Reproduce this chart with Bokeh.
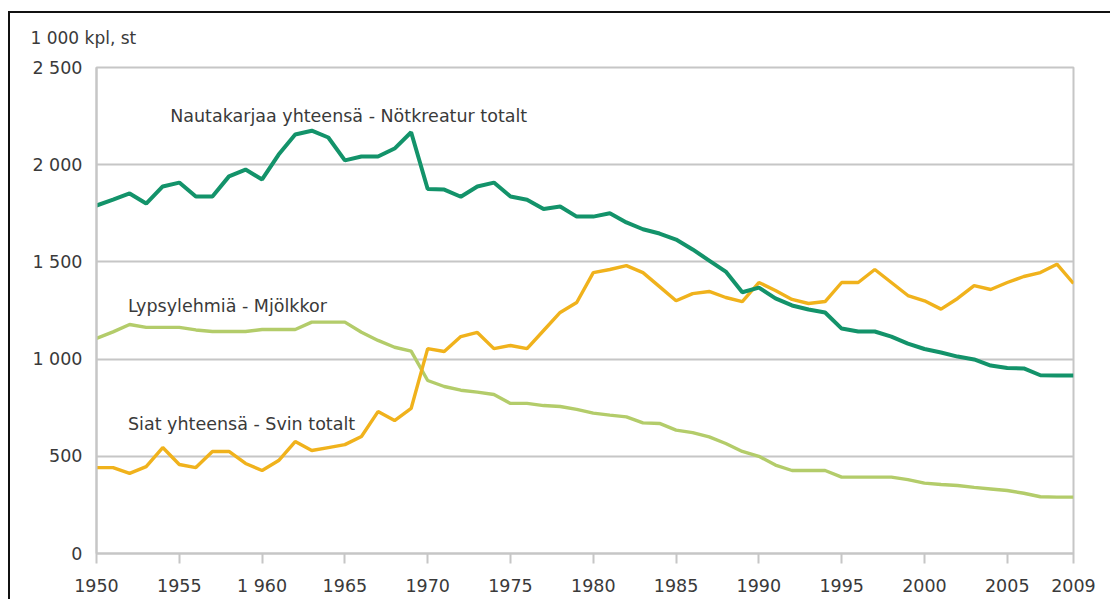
from bokeh.plotting import figure
from bokeh.models import FixedTicker, Label, Title
from bokeh.embed import file_html
from bokeh.resources import INLINE

years = list(range(1950, 2010))

cattle = [1790, 1820, 1852, 1800, 1888, 1908, 1836, 1836, 1940, 1975,
          1924, 2052, 2155, 2175, 2140, 2022, 2042, 2042, 2083, 2167,
          1875, 1872, 1835, 1888, 1908, 1836, 1820, 1772, 1785, 1733,
          1733, 1750, 1703, 1668, 1646, 1615, 1564, 1507, 1450, 1344,
          1368, 1312, 1276, 1255, 1240, 1157, 1142, 1142, 1116, 1080,
          1052, 1034, 1013, 998, 967, 954, 952, 917, 915, 915]

cows = [1106, 1140, 1178, 1163, 1163, 1163, 1150, 1142, 1142, 1142,
        1152, 1152, 1152, 1190, 1190, 1190, 1138, 1096, 1061, 1041,
        890, 859, 840, 830, 818, 772, 772, 761, 756, 741,
        722, 712, 703, 672, 669, 635, 622, 600, 566, 525,
        500, 455, 427, 427, 427, 393, 393, 393, 393, 380,
        362, 355, 350, 340, 332, 324, 310, 292, 290, 290]

pigs = [442, 442, 412, 447, 545, 458, 442, 525, 525, 463,
        427, 478, 576, 530, 545, 560, 602, 730, 684, 746,
        1054, 1039, 1116, 1137, 1054, 1070, 1054, 1147, 1240, 1291,
        1445, 1461, 1481, 1445, 1373, 1300, 1337, 1348, 1317, 1296,
        1394, 1353, 1307, 1286, 1296, 1394, 1394, 1461, 1394, 1327,
        1300, 1257, 1312, 1378, 1358, 1394, 1425, 1445, 1488, 1389]

x_ticks = [1950, 1955, 1960, 1965, 1970, 1975, 1980, 1985, 1990, 1995, 2000, 2005, 2009]
x_tick_labels = {1960: "1 960"}
y_ticks = [0, 500, 1000, 1500, 2000, 2500]
y_tick_labels = {0: "0", 500: "500", 1000: "1 000", 1500: "1 500", 2000: "2 000", 2500: "2 500"}

unit_label = "1 000 kpl, st"
series_labels = ["Nautakarjaa yhteensä - Nötkreatur totalt",
                 "Lypsylehmiä - Mjölkkor",
                 "Siat yhteensä - Svin totalt"]

FONT = "DejaVu Sans"
TXT = "#3a3a3a"
GRID = "#c6c6c6"

p = figure(width=1110, height=599, output_backend="svg", toolbar_location=None,
           x_range=(1950, 2009), y_range=(0, 2500),
           min_border_left=96, min_border_right=37, min_border_top=67, min_border_bottom=46)
p.border_fill_color = None
p.background_fill_color = "white"
p.styles = {
    "background": "linear-gradient(#111, #111) 8px 11px / 100% 2px no-repeat, "
                  "linear-gradient(#111, #111) 8px 11px / 2px 100% no-repeat, white",
}

t = Title(text=unit_label, align="left", offset=-66, text_font=FONT,
          text_font_size="17px", text_font_style="normal", text_color=TXT,
          standoff=40)
p.add_layout(t, "above")

p.outline_line_color = GRID
p.outline_line_width = 2
p.xgrid.grid_line_color = None
p.ygrid.grid_line_color = GRID
p.ygrid.grid_line_width = 2

p.xaxis.ticker = FixedTicker(ticks=x_ticks)
p.xaxis.major_label_overrides = x_tick_labels
p.xaxis.minor_tick_line_color = None
p.xaxis.major_tick_in = 0
p.xaxis.major_tick_out = 10
p.xaxis.major_label_standoff = 12
p.yaxis.ticker = FixedTicker(ticks=y_ticks)
p.yaxis.major_label_overrides = y_tick_labels
p.yaxis.minor_tick_line_color = None
p.yaxis.major_tick_in = 0
p.yaxis.major_tick_out = 0
p.yaxis.major_label_standoff = 14
for ax in (p.xaxis, p.yaxis):
    ax.axis_line_color = GRID
    ax.axis_line_width = 2
    ax.major_tick_line_color = GRID
    ax.major_tick_line_width = 2
    ax.major_label_text_font = FONT
    ax.major_label_text_font_size = "17.5px"
    ax.major_label_text_color = TXT

p.line(years, cows, line_color="#b3cc6a", line_width=3.4)
p.line(years, pigs, line_color="#f0b21c", line_width=3.4)
p.line(years, cattle, line_color="#13936a", line_width=4)

def lab(x, y, t, size="17.5px"):
    p.add_layout(Label(x=x, y=y, text=t, text_font=FONT, text_font_size=size,
                       text_color=TXT, text_baseline="middle", text_align="left"))

lab(1954.45, 2248, series_labels[0])
lab(1951.9, 1271, series_labels[1])
lab(1951.9, 664, series_labels[2])

open("out.html", "w").write(file_html(p, INLINE))
